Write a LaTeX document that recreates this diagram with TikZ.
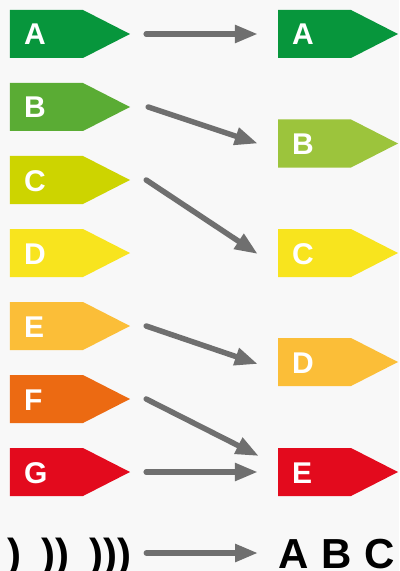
\documentclass[tikz,border=0pt]{standalone}
\usepackage{fontspec}
\setmainfont{Liberation Sans}
\usetikzlibrary{arrows.meta,positioning}
\usepackage{xcolor}

\definecolor{classA}{RGB}{7,150,60}
\definecolor{classB}{RGB}{90,172,52}
\definecolor{classBnew}{RGB}{156,196,60}
\definecolor{classC}{RGB}{205,212,0}
\definecolor{classD}{RGB}{248,228,30}
\definecolor{classE}{RGB}{251,190,56}
\definecolor{classF}{RGB}{236,106,18}
\definecolor{classG}{RGB}{227,10,29}
\definecolor{arrowgray}{RGB}{111,111,111}
\definecolor{paper}{RGB}{248,248,248}

\begin{document}
\begin{tikzpicture}[x=1bp, y=-1bp]
            \tikzset{
                tag/.style={minimum height=48bp, text width=92bp, inner xsep=14bp, inner ysep=0pt, align=left,
                    text height=22bp, text depth=0pt, text=white, font=\fontsize{30bp}{30bp}\selectfont\bfseries,
                    path picture={\fill[#1] (path picture bounding box.north west)
                        -- ([xshift=-47bp]path picture bounding box.north east)
                        -- (path picture bounding box.east)
                        -- ([xshift=-47bp]path picture bounding box.south east)
                        -- (path picture bounding box.south west) -- cycle;}},
                big/.style={inner sep=0pt, text height=30bp, text depth=0pt, font=\fontsize{42bp}{42bp}\selectfont\bfseries},
                conn/.style={-{Triangle[length=23bp,width=17bp]}, line width=5.5bp, line cap=round, draw=arrowgray}
            }

            \useasboundingbox (0,0) rectangle (399,571);
            \clip (0,0) rectangle (399,571);
            \fill[paper] (0,0) rectangle (399,571);

            % old classes
            \begin{scope}[shift={(70,0)}]
                \node[tag=classA](lA) at (0,34) {A};
                \node[tag=classB](lB) at (0,107) {B};
                \node[tag=classC](lC) at (0,180) {C};
                \node[tag=classD](lD) at (0,253) {D};
                \node[tag=classE](lE) at (0,326) {E};
                \node[tag=classF](lF) at (0,399) {F};
                \node[tag=classG](lG) at (0,472) {G};
            \end{scope}

            % new classes
            \begin{scope}[shift={(338,0)}]
                \node[tag=classA](rA) at (0,34) {A};
                \node[tag=classBnew](rB) at (0,143.5) {B};
                \node[tag=classD](rC) at (0,253) {C};
                \node[tag=classE](rD) at (0,362) {D};
                \node[tag=classG](rE) at (0,472) {E};
            \end{scope}

            \node[big, anchor=west](waves) at (7,553) {)\hspace{20bp}))\hspace{20bp})))};
            \node[big, anchor=west](abc) at (278,553) {A\hspace{13bp}B\hspace{13bp}C};

            \path
                ([xshift=16bp]lA.east) edge[conn] ([xshift=-20bp]rA.west)
                ([xshift=18bp]lB.east) edge[conn] ([xshift=-20bp]rB.west)
                ([xshift=16bp]lC.east) edge[conn] ([xshift=-20bp, yshift=-1bp]rC.west)
                ([xshift=16bp]lE.east) edge[conn] ([xshift=-20bp, yshift=-2bp]rD.west)
                ([xshift=16bp]lF.east) edge[conn] ([xshift=-19bp, yshift=16bp]rE.west)
                ([xshift=16bp]lG.east) edge[conn] ([xshift=-20bp]rE.west)
                ([xshift=15bp]waves.east) edge[conn] ([xshift=-20bp]abc.west)
            ;
\end{tikzpicture}
\end{document}
